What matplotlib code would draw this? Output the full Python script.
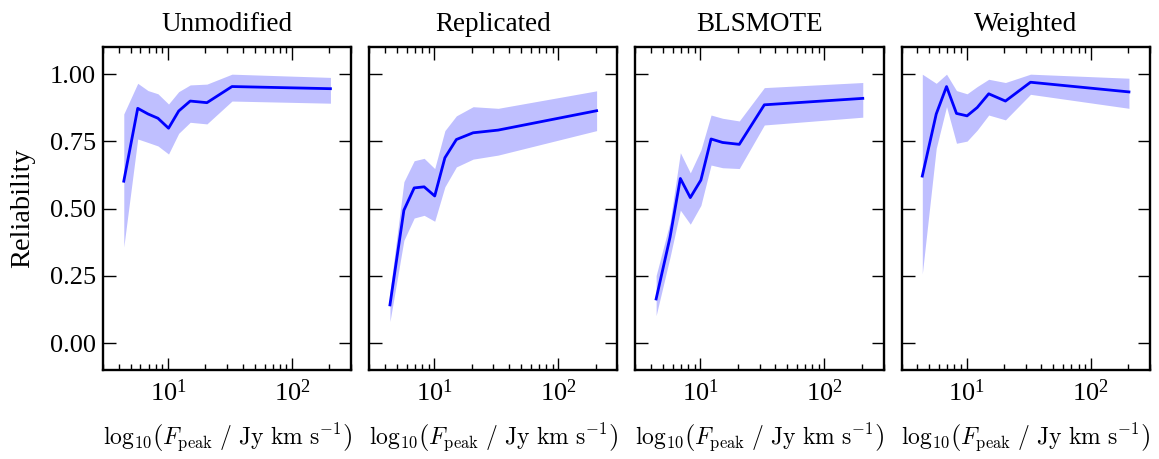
import numpy as np
import matplotlib
matplotlib.use("Agg")
import matplotlib.pyplot as plt
from matplotlib.ticker import LogLocator, NullFormatter

plt.rcParams["font.family"] = "Liberation Serif"
plt.rcParams["mathtext.fontset"] = "stix"

# bin centres of peak flux (Jy km/s), shared by all methods
fpeak = [4.4, 5.7, 6.9, 8.3, 10.1, 12.2, 15.1, 20.6, 32.8, 204.0]

methods = ["Unmodified", "Replicated", "BLSMOTE", "Weighted"]

rel_unmod = [0.602, 0.873, 0.852, 0.836, 0.799, 0.863, 0.900, 0.894, 0.954, 0.946]
lo_unmod = [0.357, 0.759, 0.746, 0.733, 0.703, 0.780, 0.821, 0.815, 0.900, 0.892]
hi_unmod = [0.852, 0.966, 0.939, 0.927, 0.889, 0.935, 0.960, 0.963, 1.000, 0.988]

rel_repl = [0.142, 0.494, 0.577, 0.581, 0.547, 0.689, 0.757, 0.782, 0.792, 0.864]
lo_repl = [0.080, 0.382, 0.465, 0.475, 0.453, 0.581, 0.655, 0.684, 0.699, 0.790]
hi_repl = [0.190, 0.600, 0.678, 0.687, 0.649, 0.790, 0.845, 0.879, 0.873, 0.938]

rel_bls = [0.164, 0.394, 0.612, 0.541, 0.606, 0.759, 0.746, 0.739, 0.886, 0.910]
lo_bls = [0.102, 0.320, 0.494, 0.442, 0.512, 0.662, 0.652, 0.649, 0.811, 0.840]
hi_bls = [0.251, 0.450, 0.708, 0.633, 0.718, 0.848, 0.836, 0.826, 0.950, 0.969]

rel_wt = [0.621, 0.852, 0.954, 0.854, 0.845, 0.876, 0.927, 0.900, 0.970, 0.934]
lo_wt = [0.257, 0.724, 0.879, 0.743, 0.751, 0.792, 0.848, 0.830, 0.925, 0.873]
hi_wt = [1.000, 0.966, 1.000, 0.939, 0.927, 0.954, 0.981, 0.969, 1.000, 0.985]

series = [(rel_unmod, lo_unmod, hi_unmod),
          (rel_repl, lo_repl, hi_repl),
          (rel_bls, lo_bls, hi_bls),
          (rel_wt, lo_wt, hi_wt)]

yticks = [0.0, 0.25, 0.5, 0.75, 1.0]
xlab = r"$\log_{10}\!\left(F_{\rm peak}\ /\ {\rm Jy\ km\ s^{-1}}\right)$"

fig, axes = plt.subplots(1, 4, figsize=(11.59, 4.59), dpi=100, sharey=True)
fig.subplots_adjust(left=0.089, right=0.992, top=0.897, bottom=0.194, wspace=0.073)

for i, ax in enumerate(axes):
    rel, lo, hi = series[i]
    ax.fill_between(fpeak, lo, hi, color="#0000ff", alpha=0.25, linewidth=0)
    ax.plot(fpeak, rel, color="#0000ff", lw=2)
    ax.set_xscale("log")
    ax.set_xlim(3, 300)
    ax.set_ylim(-0.1, 1.1)
    ax.set_yticks(yticks)
    ax.yaxis.set_major_formatter(plt.FuncFormatter(lambda v, p: "%.2f" % v))
    ax.xaxis.set_major_locator(LogLocator(base=10, numticks=10))
    ax.xaxis.set_minor_locator(LogLocator(base=10, subs=np.arange(2, 10), numticks=10))
    ax.xaxis.set_minor_formatter(NullFormatter())
    ax.tick_params(which="both", direction="in", top=True, right=True, labelsize=19)
    ax.tick_params(which="major", length=9, width=1)
    ax.tick_params(which="minor", length=4.5, width=1)
    ax.tick_params(axis="x", pad=7)
    ax.tick_params(axis="y", pad=5)
    for sp in ax.spines.values():
        sp.set_linewidth(1.7)
    ax.set_title(methods[i], fontsize=19.5, pad=12)
    ax.set_xlabel(xlab, fontsize=17, labelpad=11, math_fontfamily="cm")

axes[0].set_ylabel("Reliability", fontsize=20.5, labelpad=11)

fig.savefig("out.png", dpi=100)
